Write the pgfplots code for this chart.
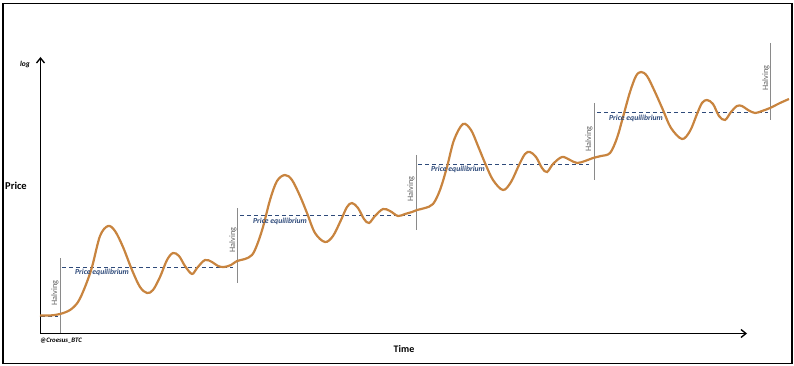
\documentclass[border=0pt]{standalone}
\usepackage{pgfplots}
\pgfplotsset{compat=1.18}
\usepackage{fontspec}
\setmainfont{Carlito}
\usetikzlibrary{arrows.meta}
\definecolor{curve}{HTML}{C8843F}
\definecolor{eqc}{HTML}{2E4A7A}
\definecolor{halv}{HTML}{8A8A8A}
\begin{document}
\begin{tikzpicture}
\begin{axis}[
  scale only axis, width=794pt, height=366pt,
  xmin=0, xmax=794, ymin=0, ymax=366, y dir=reverse,
  hide axis, clip=false,
]
% bounding
\addplot[draw=none] coordinates {(0,0) (794,366)};
% frame
\addplot[black, line width=1.4pt] coordinates {(3,3.5) (792,3.5) (792,363.5) (3,363.5) (3,3.5)};
% axes
\addplot[black, line width=1.3pt, -{Straight Barb[length=5pt,width=8pt]}] coordinates {(40.5,333.5) (40.5,57)};
\addplot[black, line width=1.3pt, -{Straight Barb[length=5pt,width=8pt]}] coordinates {(40.5,333.5) (747,333.5)};
% halving lines
\addplot[halv, line width=0.8pt] coordinates {(60,258) (60,333)};
\addplot[halv, line width=0.8pt] coordinates {(237,208) (237,283)};
\addplot[halv, line width=0.8pt] coordinates {(416,155) (416,230)};
\addplot[halv, line width=0.8pt] coordinates {(594,103) (594,180)};
\addplot[halv, line width=0.8pt] coordinates {(770,43) (770,120)};
% equilibrium lines
\addplot[eqc, line width=0.9pt, dash pattern=on 4pt off 3pt] coordinates {(62,267) (233,267)};
\addplot[eqc, line width=0.9pt, dash pattern=on 4pt off 3pt] coordinates {(240,215) (411,215)};
\addplot[eqc, line width=0.9pt, dash pattern=on 4pt off 3pt] coordinates {(418,164) (589,164)};
\addplot[eqc, line width=0.9pt, dash pattern=on 4pt off 3pt] coordinates {(597,112) (768,112)};
\addplot[eqc, line width=0.9pt, dash pattern=on 4pt off 3pt] coordinates {(41,316) (58,316)};
% price curve
\addplot[curve, line width=2.2pt, smooth, tension=0.55] coordinates {
(40,315.5)(50,315.5)(60,314)(70,310)(78,302)(85,287)(92,267)(100,236)(108,226)(115,231)(123,247)(132,270)(140,287)(147,293)(153,290)(160,277)(167,260)(173,253)(179,256)(185,266)(192,274)(197,268)(205,260)(212,262)(218,266)(224,267)(231,265)(237,261)(245,259)(252,255)(257,245)(263,227)(270,200)(277,181)(285,175)(292,180)(300,196)(307,213)(315,233)(325,242)(333,236)(341,220)(347,207)(352,203)(358,208)(364,219)(369,223)(375,216)(383,209)(390,211)(398,216)(405,214)(412,212)(417,210)(425,208)(433,204)(440,190)(447,167)(454,140)(463,124)(471,130)(478,146)(485,163)(493,180)(503,190)(511,182)(519,165)(525,154)(530,152)(536,157)(542,168)(547,172)(553,164)(562,157)(570,160)(577,163)(585,161)(593,158)(601,156)(610,153)(617,138)(623,117)(630,92)(636,76)(641,72)(647,76)(655,92)(663,110)(671,128)(682,139)(690,131)(697,114)(702,103)(707,100)(713,104)(719,116)(725,120)(731,112)(737,106)(742,106)(748,110)(755,113)(762,111)(770,108)(780,103)(789,99)};
% texts
\node[halv!70!black, rotate=90, font=\fontsize{8.3}{9}\selectfont] at (axis cs:55,293) {Halving};
\node[halv!70!black, rotate=90, font=\fontsize{8.3}{9}\selectfont] at (axis cs:233,240) {Halving};
\node[halv!70!black, rotate=90, font=\fontsize{8.3}{9}\selectfont] at (axis cs:411,189) {Halving};
\node[halv!70!black, rotate=90, font=\fontsize{8.3}{9}\selectfont] at (axis cs:589,139) {Halving};
\node[halv!70!black, rotate=90, font=\fontsize{8.3}{9}\selectfont] at (axis cs:766,78) {Halving};
\node[eqc, font=\fontsize{7.7}{9}\selectfont\bfseries\itshape] at (axis cs:102,272) {Price equilibrium};
\node[eqc, font=\fontsize{7.7}{9}\selectfont\bfseries\itshape] at (axis cs:280,221) {Price equilibrium};
\node[eqc, font=\fontsize{7.7}{9}\selectfont\bfseries\itshape] at (axis cs:458,169) {Price equilibrium};
\node[eqc, font=\fontsize{7.7}{9}\selectfont\bfseries\itshape] at (axis cs:636,118) {Price equilibrium};
\node[font=\fontsize{10.5}{12}\selectfont\bfseries] at (axis cs:16,186) {Price};
\node[font=\fontsize{10}{12}\selectfont\bfseries] at (axis cs:404,349) {Time};
\node[font=\fontsize{7.5}{8}\selectfont\bfseries\itshape] at (axis cs:25,65) {log};
\node[anchor=west, font=\fontsize{6.8}{7}\selectfont\bfseries\itshape, inner sep=0pt] at (axis cs:40,341) {@Croesus\_BTC};
\end{axis}
\end{tikzpicture}
\end{document}
